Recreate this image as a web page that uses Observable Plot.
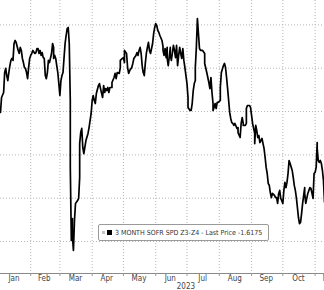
<!DOCTYPE html>
<html>
<head>
<meta charset="utf-8">
<script src="https://cdn.jsdelivr.net/npm/d3@7"></script>
<script src="https://cdn.jsdelivr.net/npm/@observablehq/plot@0.6"></script>
<style>
  html, body { margin: 0; padding: 0; background: #fff; }
  #wrap { position: relative; width: 324px; height: 290px; overflow: hidden; }
  #legend {
    position: absolute; left: 98px; top: 224px; width: 171px; height: 17px;
    box-sizing: border-box; border: 1px solid #9a9a9a; border-radius: 2px; background: #fff;
    font-family: "DejaVu Sans Condensed", "DejaVu Sans", sans-serif; font-size: 7px; color: #333;
    display: flex; align-items: center; white-space: nowrap;
  }
  #legend .s1 { display: inline-block; width: 3px; height: 3px; background: #c4c4c4; margin-left: 3px; }
  #legend .s2 { display: inline-block; width: 5px; height: 5px; background: #000; margin-left: 2px; margin-right: 3px; }
</style>
</head>
<body>
<div id="wrap"><div id="legend"><span class="s1"></span><span class="s2"></span><span id="legtext"></span></div></div>
<script>
const seriesName = "3 MONTH SOFR SPD Z3-Z4";
const lastPrice = "-1.6175";
const yearLabel = "2023";
const gridValues = [-0.8, -1.0, -1.2, -1.4, -1.6, -1.8];
const monthStarts = ["2023-02-01","2023-03-01","2023-04-01","2023-05-01","2023-06-01","2023-07-01","2023-08-01","2023-09-01","2023-10-01","2023-11-01"];
const monthMids = ["2023-01-16","2023-02-14","2023-03-16","2023-04-15","2023-05-16","2023-06-15","2023-07-16","2023-08-16","2023-09-15","2023-10-16","2023-11-15"];

const dates = [
"2023-01-03","2023-01-04","2023-01-06","2023-01-07","2023-01-08","2023-01-09","2023-01-10","2023-01-11","2023-01-12","2023-01-13",
"2023-01-14","2023-01-15","2023-01-16","2023-01-17","2023-01-18","2023-01-20","2023-01-21","2023-01-22","2023-01-23","2023-01-24",
"2023-01-25","2023-01-26","2023-01-27","2023-01-28","2023-01-29","2023-01-30","2023-01-31","2023-02-01","2023-02-02","2023-02-03",
"2023-02-05","2023-02-06","2023-02-07","2023-02-08","2023-02-09","2023-02-10","2023-02-11","2023-02-12","2023-02-13","2023-02-14",
"2023-02-15","2023-02-16","2023-02-17","2023-02-18","2023-02-19","2023-02-21","2023-02-22","2023-02-23","2023-02-23","2023-02-24",
"2023-02-25","2023-02-26","2023-02-27","2023-02-28","2023-03-01","2023-03-02","2023-03-03","2023-03-04","2023-03-05","2023-03-06",
"2023-03-07","2023-03-08","2023-03-09","2023-03-10","2023-03-11","2023-03-11","2023-03-12","2023-03-13","2023-03-13","2023-03-14",
"2023-03-15","2023-03-16","2023-03-18","2023-03-19","2023-03-20","2023-03-20","2023-03-21","2023-03-22","2023-03-23","2023-03-24",
"2023-03-26","2023-03-28","2023-03-29","2023-03-31","2023-04-01","2023-04-02","2023-04-03","2023-04-04","2023-04-05","2023-04-07",
"2023-04-08","2023-04-09","2023-04-11","2023-04-12","2023-04-13","2023-04-14","2023-04-15","2023-04-16","2023-04-17","2023-04-18",
"2023-04-20","2023-04-20","2023-04-22","2023-04-23","2023-04-24","2023-04-25","2023-04-27","2023-04-28","2023-04-28","2023-04-30",
"2023-05-01","2023-05-02","2023-05-02","2023-05-04","2023-05-05","2023-05-06","2023-05-07","2023-05-09","2023-05-10","2023-05-11",
"2023-05-13","2023-05-14","2023-05-15","2023-05-16","2023-05-17","2023-05-18","2023-05-19","2023-05-20","2023-05-21","2023-05-22",
"2023-05-23","2023-05-24","2023-05-25","2023-05-26","2023-05-27","2023-05-29","2023-05-30","2023-05-31","2023-06-01","2023-06-02",
"2023-06-03","2023-06-04","2023-06-05","2023-06-07","2023-06-08","2023-06-08","2023-06-09","2023-06-10","2023-06-11","2023-06-12",
"2023-06-12","2023-06-13","2023-06-15","2023-06-15","2023-06-16","2023-06-18","2023-06-19","2023-06-20","2023-06-21","2023-06-22",
"2023-06-23","2023-06-24","2023-06-25","2023-06-26","2023-06-27","2023-06-28","2023-06-29","2023-07-01","2023-07-02","2023-07-02",
"2023-07-04","2023-07-05","2023-07-06","2023-07-07","2023-07-08","2023-07-09","2023-07-09","2023-07-10","2023-07-11","2023-07-12",
"2023-07-13","2023-07-14","2023-07-16","2023-07-18","2023-07-18","2023-07-20","2023-07-21","2023-07-22","2023-07-23","2023-07-24",
"2023-07-25","2023-07-26","2023-07-26","2023-07-27","2023-07-28","2023-07-29","2023-07-30","2023-07-31","2023-08-02","2023-08-02",
"2023-08-03","2023-08-05","2023-08-06","2023-08-07","2023-08-08","2023-08-09","2023-08-10","2023-08-11","2023-08-12","2023-08-13",
"2023-08-14","2023-08-15","2023-08-16","2023-08-18","2023-08-19","2023-08-19","2023-08-21","2023-08-22","2023-08-23","2023-08-24",
"2023-08-24","2023-08-26","2023-08-27","2023-08-27","2023-08-28","2023-08-30","2023-08-31","2023-09-01","2023-09-02","2023-09-04",
"2023-09-04","2023-09-05","2023-09-06","2023-09-07","2023-09-08","2023-09-09","2023-09-10","2023-09-11","2023-09-12","2023-09-13",
"2023-09-14","2023-09-15","2023-09-16","2023-09-17","2023-09-18","2023-09-19","2023-09-20","2023-09-21","2023-09-23","2023-09-24",
"2023-09-25","2023-09-26","2023-09-27","2023-09-28","2023-09-29","2023-09-30","2023-10-01","2023-10-02","2023-10-03","2023-10-04",
"2023-10-05","2023-10-06","2023-10-07","2023-10-08","2023-10-10","2023-10-11","2023-10-12","2023-10-13","2023-10-14","2023-10-15",
"2023-10-16","2023-10-17","2023-10-18","2023-10-19","2023-10-20","2023-10-22","2023-10-22","2023-10-23","2023-10-25","2023-10-26",
"2023-10-27","2023-10-28","2023-10-29","2023-10-30","2023-10-31","2023-11-01","2023-11-02","2023-11-03","2023-11-03","2023-11-04",
"2023-11-05","2023-11-06","2023-11-07","2023-11-08","2023-11-09","2023-11-10"
];
const values = [
-1.204,-1.135,-1.112,-1.020,-1.001,-1.034,-1.057,-1.020,-0.988,-0.964,
-0.955,-0.964,-0.886,-0.872,-0.881,-0.918,-0.932,-0.904,-0.918,-0.955,
-0.974,-0.997,-1.001,-1.020,-1.048,-0.997,-0.955,-0.941,-0.932,-0.918,
-0.932,-0.928,-0.909,-0.909,-0.932,-0.918,-0.941,-0.928,-0.951,-0.955,
-1.034,-1.048,-1.020,-0.964,-0.974,-0.932,-0.886,-0.904,-0.955,-0.941,
-0.955,-0.988,-1.020,-1.071,-1.126,-1.057,-1.034,-1.020,-0.951,-0.886,
-0.849,-0.817,-0.812,-0.886,-1.149,-1.458,-1.795,-1.694,-1.772,-1.841,
-1.703,-1.624,-1.611,-1.601,-1.504,-1.348,-1.297,-1.278,-1.366,-1.394,
-1.334,-1.301,-1.274,-1.209,-1.149,-1.126,-1.149,-1.163,-1.117,-1.080,
-1.071,-1.094,-1.135,-1.080,-1.112,-1.094,-1.103,-1.089,-1.112,-1.089,
-1.089,-1.066,-1.043,-1.024,-1.048,-1.020,-1.024,-0.997,-0.964,-0.955,
-0.951,-0.974,-0.918,-0.932,-0.997,-1.024,-1.011,-0.997,-0.978,-0.955,
-0.941,-0.928,-0.941,-0.918,-0.904,-0.932,-0.988,-1.020,-1.034,-0.978,
-0.932,-0.904,-0.881,-0.918,-0.932,-0.886,-0.840,-0.812,-0.794,-0.803,
-0.826,-0.835,-0.849,-0.872,-0.900,-0.918,-0.941,-0.909,-0.951,-0.904,
-0.955,-0.988,-0.904,-0.941,-0.964,-0.895,-0.918,-0.951,-0.895,-0.988,
-0.941,-0.904,-0.932,-0.955,-0.909,-0.964,-0.997,-1.071,-1.135,-1.181,
-1.195,-1.195,-1.163,-1.103,-1.071,-1.057,-0.997,-0.904,-0.771,-0.840,
-0.909,-0.918,-0.918,-0.932,-0.978,-1.020,-1.043,-1.066,-1.094,-1.043,
-1.112,-1.163,-1.195,-1.181,-1.163,-1.186,-1.158,-1.158,-1.149,-1.089,
-1.020,-0.988,-0.978,-0.997,-1.043,-1.094,-1.149,-1.204,-1.232,-1.251,
-1.255,-1.264,-1.255,-1.278,-1.274,-1.297,-1.320,-1.255,-1.228,-1.255,
-1.264,-1.264,-1.255,-1.186,-1.172,-1.172,-1.181,-1.218,-1.255,-1.301,
-1.348,-1.264,-1.288,-1.320,-1.311,-1.343,-1.334,-1.324,-1.348,-1.371,
-1.412,-1.458,-1.486,-1.532,-1.541,-1.574,-1.597,-1.578,-1.587,-1.597,
-1.597,-1.624,-1.578,-1.564,-1.601,-1.611,-1.624,-1.564,-1.527,-1.551,
-1.527,-1.486,-1.426,-1.440,-1.472,-1.504,-1.541,-1.564,-1.597,-1.643,
-1.689,-1.717,-1.712,-1.671,-1.624,-1.551,-1.578,-1.624,-1.578,-1.564,
-1.551,-1.555,-1.578,-1.601,-1.486,-1.481,-1.458,-1.343,-1.371,-1.426,
-1.435,-1.426,-1.440,-1.472,-1.518,-1.6175
];

const data = dates.map((d, i) => ({date: new Date(d), value: values[i]}));
const starts = monthStarts.map(d => new Date(d));
const mids = monthMids.map(d => new Date(d));

document.getElementById("legtext").textContent = `${seriesName} - Last Price ${lastPrice}`;

const chart = Plot.plot({
  width: 324,
  height: 290,
  marginLeft: 0,
  marginRight: 0,
  marginTop: 0,
  marginBottom: 17,
  x: {type: "utc", domain: [new Date("2023-01-03"), new Date("2023-11-10")]},
  y: {domain: [-1.9475, -0.6875], axis: null},
  style: {fontFamily: "'DejaVu Sans Condensed', 'DejaVu Sans', sans-serif", fontSize: "8px", color: "#333", background: "#fff"},
  marks: [
    Plot.gridY(gridValues, {stroke: "#b5b5b5", strokeOpacity: 1, strokeWidth: 1, strokeDasharray: "1,2"}),
    Plot.gridX(starts, {stroke: "#b5b5b5", strokeOpacity: 1, strokeWidth: 1, strokeDasharray: "1,2"}),
    Plot.frame({anchor: "bottom", stroke: "#8a8a8a"}),
    Plot.axisX(starts, {tickSize: 3, tickFormat: () => "", stroke: "#9a9a9a"}),
    Plot.axisX(mids, {tickSize: 0, tickPadding: 2, tickFormat: "%b", fill: "#444"}),
    Plot.text([yearLabel], {x: () => new Date("2023-06-30"), frameAnchor: "bottom", dy: 13, lineAnchor: "middle", fill: "#444", fontSize: 8}),
    Plot.lineY(data, {x: "date", y: "value", stroke: "#000", strokeWidth: 1.7, curve: "linear"})
  ]
});
document.getElementById("wrap").prepend(chart);
</script>
</body>
</html>
